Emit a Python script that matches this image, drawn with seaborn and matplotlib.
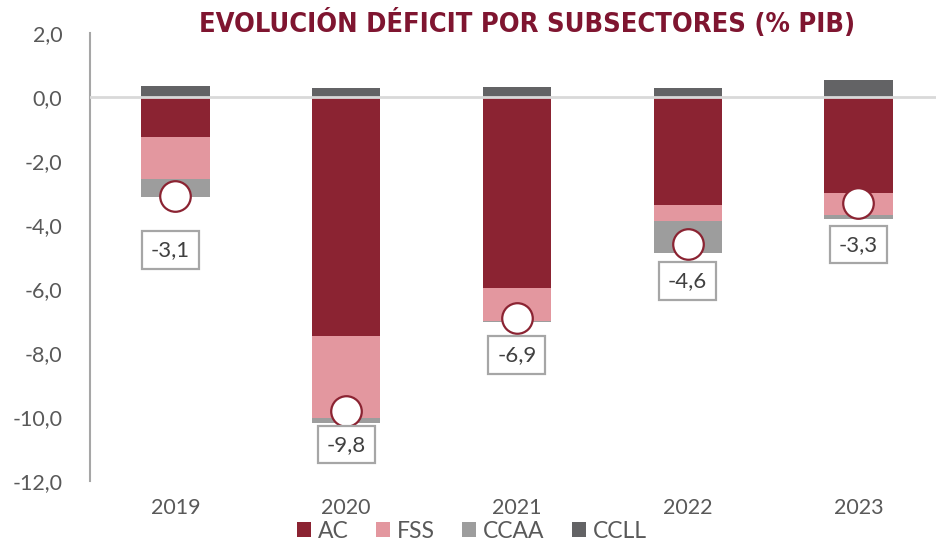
import matplotlib
matplotlib.use("Agg")
import matplotlib.pyplot as plt
import seaborn as sns
import pandas as pd
import numpy as np
from matplotlib.patches import Patch
from matplotlib import font_manager

years = ["2019", "2020", "2021", "2022", "2023"]
ac = [-1.24, -7.46, -5.98, -3.38, -3.01]
fss = [-1.33, -2.58, -1.01, -0.50, -0.68]
ccaa = [-0.54, -0.16, -0.05, -0.99, -0.12]
ccll = [0.35, 0.29, 0.30, 0.29, 0.53]
totals = [-3.1, -9.8, -6.9, -4.6, -3.3]
total_labels = ["-3,1", "-9,8", "-6,9", "-4,6", "-3,3"]
yticks = [2, 0, -2, -4, -6, -8, -10, -12]

c_ac = "#8B2332"
c_fss = "#E3979F"
c_ccaa = "#9D9D9D"
c_ccll = "#636365"
grey_txt = "#595959"

sns.set_theme(style="white")
fl = font_manager.fontManager.ttflist
base_font = "Lato" if any(f.name == "Lato" for f in fl) else "DejaVu Sans"
plt.rcParams["font.family"] = [base_font, "DejaVu Sans"]

fig = plt.figure(figsize=(9.37, 5.43), dpi=100)
ax = fig.add_axes([90 / 937, 1 - 481 / 543, 1 - 90 / 937, (481 - 33) / 543])

df = pd.DataFrame({"year": years, "ac": ac, "fss": fss, "ccaa": ccaa, "ccll": ccll})
df["cum_fss"] = df["ac"] + df["fss"]
df["cum_ccaa"] = df["cum_fss"] + df["ccaa"]

for col, color in [("cum_ccaa", c_ccaa), ("cum_fss", c_fss), ("ac", c_ac), ("ccll", c_ccll)]:
    sns.barplot(data=df, x="year", y=col, color=color, width=0.4, ax=ax,
                saturation=1, linewidth=0, zorder=2)

ax.axhline(0, color="#D9D9D9", lw=2, zorder=3)

ax.plot(np.arange(len(years)), totals, linestyle="none", marker="o", markersize=22,
        markerfacecolor="white", markeredgecolor=c_ac, markeredgewidth=1.6, zorder=5)

label_offsets = [-54, -34, -37, -37, -42]
label_dx = [-5, 0, 0, 0, 0]
for i, (t, lab) in enumerate(zip(totals, total_labels)):
    ax.annotate(lab, (i, t), xytext=(label_dx[i], label_offsets[i]), textcoords="offset pixels",
                ha="center", va="center", fontsize=16, color="#404040",
                bbox=dict(boxstyle="square,pad=0.4", facecolor="white",
                          edgecolor="#A6A6A6", linewidth=1.6), zorder=6)

ax.set_ylim(-12, 2)
ax.set_xlim(-0.5, 4.46)
ax.set_yticks(yticks)
ax.set_yticklabels([f"{v:.1f}".replace(".", ",") for v in yticks], fontsize=15.5, color=grey_txt)
ax.tick_params(axis="x", labelsize=15.5, colors=grey_txt, length=0, pad=12)
ax.tick_params(axis="y", length=0, pad=20)
ax.set_xlabel("")
ax.set_ylabel("")
for s in ["top", "right", "bottom"]:
    ax.spines[s].set_visible(False)
ax.spines["left"].set_color("#A6A6A6")
ax.spines["left"].set_linewidth(1.5)

fig.text(527 / 937, 1 - 23 / 543, "EVOLUCIÓN DÉFICIT POR SUBSECTORES (% PIB)",
         ha="center", va="center", fontsize=19.5, fontweight="bold", color="#7F1530",
         family=["DejaVu Sans"], fontstretch="condensed")

handles = [Patch(facecolor=c, edgecolor="none") for c in [c_ac, c_fss, c_ccaa, c_ccll]]
fig.legend(handles, ["AC", "FSS", "CCAA", "CCLL"], loc="center", ncol=4,
           bbox_to_anchor=(472 / 937, 1 - 531 / 543), frameon=False, fontsize=16.5,
           handlelength=0.6, handleheight=0.6, handletextpad=0.3, columnspacing=1.2,
           labelcolor=grey_txt, borderpad=0)

fig.savefig("out.png", dpi=100)
